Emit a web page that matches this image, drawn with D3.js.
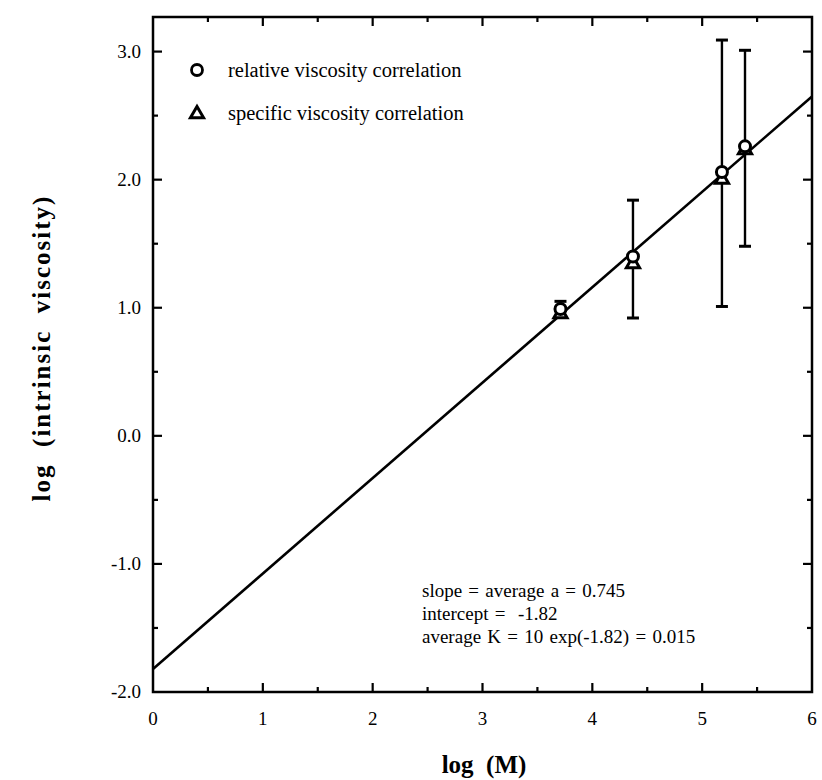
<!DOCTYPE html>
<html>
<head>
<meta charset="utf-8">
<script src="https://cdn.jsdelivr.net/npm/d3@7/dist/d3.min.js"></script>
<style>
  body { margin: 0; background: #fff; }
  svg text { font-family: "Liberation Serif", "Times New Roman", serif; fill: #000; white-space: pre; }
</style>
</head>
<body>
<svg id="chart"></svg>
<script>
// data
var logM      = [3.71, 4.37, 5.18, 5.39];
var relVisc   = [0.99, 1.40, 2.06, 2.26];
var specVisc  = [0.96, 1.35, 2.01, 2.24];
var errLow    = [0.93, 0.92, 1.01, 1.48];
var errHigh   = [1.05, 1.84, 3.09, 3.01];
var fitSlope = 0.745, fitIntercept = -1.82;
var xTicks = [0, 1, 2, 3, 4, 5, 6];
var yTicks = [-2, -1, 0, 1, 2, 3];
var notes = ["slope = average a = 0.745", "intercept =  -1.82", "average K = 10 exp(-1.82) = 0.015"];
var legendLabels = ["relative viscosity correlation", "specific viscosity correlation"];

var width = 822, height = 780;
var plotL = 153, plotR = 812, plotT = 17, plotB = 692;

var svg = d3.select("#chart").attr("width", width).attr("height", height);

var x = d3.scaleLinear().domain([0, 6]).range([plotL, plotR]);
var y = d3.scaleLinear().domain([-2, 3.27]).range([plotB, plotT]);

var g = svg.append("g");

// minor ticks at halves
var xMinor = d3.range(0.5, 6, 1);
var yMinor = d3.range(-1.5, 3.27, 1);

function tickLines(vals, len, orient) {
  vals.forEach(function (v) {
    if (orient === "bottom") g.append("line").attr("x1", x(v)).attr("x2", x(v)).attr("y1", plotB).attr("y2", plotB - len);
    if (orient === "top") g.append("line").attr("x1", x(v)).attr("x2", x(v)).attr("y1", plotT).attr("y2", plotT + len);
    if (orient === "left") g.append("line").attr("y1", y(v)).attr("y2", y(v)).attr("x1", plotL).attr("x2", plotL + len);
    if (orient === "right") g.append("line").attr("y1", y(v)).attr("y2", y(v)).attr("x1", plotR).attr("x2", plotR - len);
  });
}
tickLines(xTicks.slice(1, -1), 9, "bottom");
tickLines(xTicks.slice(1, -1), 9, "top");
tickLines(xMinor, 5, "bottom");
tickLines(xMinor, 5, "top");
tickLines(yTicks.slice(1), 9, "left");
tickLines(yTicks.slice(1), 9, "right");
tickLines(yMinor, 5, "left");
tickLines(yMinor, 5, "right");
g.selectAll("line").attr("stroke", "#000").attr("stroke-width", 2.2);

// frame
svg.append("rect")
  .attr("x", plotL).attr("y", plotT)
  .attr("width", plotR - plotL).attr("height", plotB - plotT)
  .attr("fill", "none").attr("stroke", "#000").attr("stroke-width", 2.5);

// tick labels
svg.selectAll(".xl").data(xTicks).enter().append("text")
  .attr("x", function (d) { return x(d); })
  .attr("y", plotB + 33)
  .attr("text-anchor", "middle")
  .style("font-size", "19px")
  .text(function (d) { return d; });

svg.selectAll(".yl").data(yTicks).enter().append("text")
  .attr("x", plotL - 12)
  .attr("y", function (d) { return y(d) + 6; })
  .attr("text-anchor", "end")
  .style("font-size", "19px")
  .text(function (d) { return d.toFixed(1); });

// fit line
var line = d3.line().x(function (d) { return x(d); }).y(function (d) { return y(fitIntercept + fitSlope * d); });
svg.append("path").datum([0, 6]).attr("d", line)
  .attr("fill", "none").attr("stroke", "#000").attr("stroke-width", 2.6);

// error bars
var pts = logM.map(function (m, i) {
  return { m: m, rel: relVisc[i], spec: specVisc[i], lo: errLow[i], hi: errHigh[i] };
});
var eb = svg.append("g").attr("stroke", "#000");
pts.forEach(function (p) {
  eb.append("line").attr("x1", x(p.m)).attr("x2", x(p.m)).attr("y1", y(p.lo)).attr("y2", y(p.hi)).attr("stroke-width", 2.4);
  eb.append("line").attr("x1", x(p.m) - 6).attr("x2", x(p.m) + 6).attr("y1", y(p.lo)).attr("y2", y(p.lo)).attr("stroke-width", 3);
  eb.append("line").attr("x1", x(p.m) - 6).attr("x2", x(p.m) + 6).attr("y1", y(p.hi)).attr("y2", y(p.hi)).attr("stroke-width", 3);
});

var tri = d3.symbol().type(d3.symbolTriangle).size(75);

// markers
svg.selectAll(".tri").data(pts).enter().append("path")
  .attr("d", tri)
  .attr("transform", function (d) { return "translate(" + x(d.m) + "," + (y(d.spec) + 1) + ")"; })
  .attr("fill", "#fff").attr("stroke", "#000").attr("stroke-width", 3);

svg.selectAll(".circ").data(pts).enter().append("circle")
  .attr("cx", function (d) { return x(d.m); })
  .attr("cy", function (d) { return y(d.rel); })
  .attr("r", 5.5)
  .attr("fill", "#fff").attr("stroke", "#000").attr("stroke-width", 3);

// legend
var lg = svg.append("g");
lg.append("circle").attr("cx", 197).attr("cy", 70).attr("r", 5.5)
  .attr("fill", "#fff").attr("stroke", "#000").attr("stroke-width", 2.8);
lg.append("path").attr("d", tri).attr("transform", "translate(197,114)")
  .attr("fill", "#fff").attr("stroke", "#000").attr("stroke-width", 3);
legendLabels.forEach(function (t, i) {
  lg.append("text").attr("x", 228).attr("y", 77 + i * 43)
    .style("font-size", "20.5px").text(t);
});

// annotation
notes.forEach(function (t, i) {
  svg.append("text").attr("x", 422).attr("y", 597 + i * 23)
    .style("font-size", "19px").style("word-spacing", "1.5px").text(t);
});

// axis titles
svg.append("text").attr("x", 484).attr("y", 773)
  .attr("text-anchor", "middle")
  .style("font-size", "25px").style("font-weight", "bold")
  .text("log  (M)");

svg.append("text")
  .attr("transform", "translate(50,348) rotate(-90)")
  .attr("text-anchor", "middle")
  .style("font-size", "25px").style("font-weight", "bold")
  .style("letter-spacing", "2px")
  .text("log  (intrinsic  viscosity)");
</script>
</body>
</html>
